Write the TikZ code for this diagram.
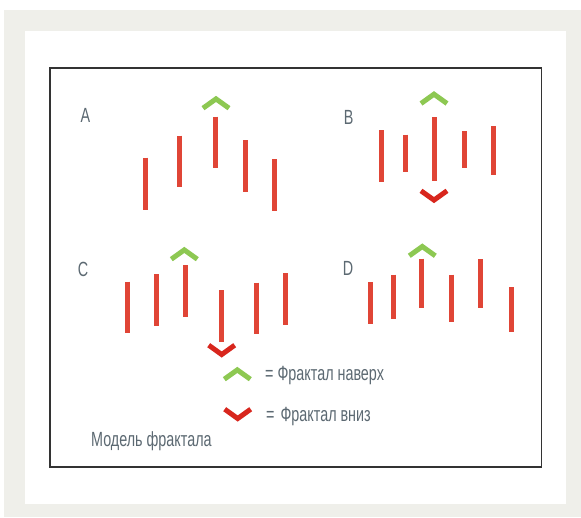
\documentclass[tikz,border=0pt]{standalone}
\usepackage{fontspec}
\setmainfont[FakeStretch=0.70]{Liberation Sans}
\begin{document}
\begin{tikzpicture}[x=1pt,y=-1pt,
  bar/.style={line width=5pt,draw=barred,line cap=butt},
  upchev/.style={line width=5pt,draw=chevgreen,line cap=butt,line join=miter},
  downchev/.style={line width=5pt,draw=chevred,line cap=butt,line join=miter},
  lbl/.style={text=txtgray,font=\fontsize{20.5}{23}\selectfont,inner sep=0pt},
  frame/.style={draw=framegray,line width=1.5pt}]
\definecolor{barred}{HTML}{E04536}
\definecolor{chevgreen}{HTML}{8DC852}
\definecolor{chevred}{HTML}{D8261D}
\definecolor{txtgray}{HTML}{5C6972}
\definecolor{bggray}{HTML}{EFEFEA}
\definecolor{framegray}{HTML}{333333}
\useasboundingbox (0,0) rectangle (581,517);
\fill[bggray] (4,10) rectangle (581,517);
\fill[white] (25,31) rectangle (566,504);
\draw[frame] (50,68) rectangle (541.5,467);
% chevrons: up apex outer top (cx,ty); down apex outer bottom
\def\up#1#2{\draw[upchev] (#1-13,#2+12.5) -- (#1,#2+3.2) -- (#1+13,#2+12.5);}
\def\dn#1#2{\draw[downchev] (#1-13,#2-12.5) -- (#1,#2-3.2) -- (#1+13,#2-12.5);}
% Panel A
\node[lbl,anchor=base] (la) at (85.5,122.7) {A};
\draw[bar] (145,157.7) -- (145,210);
\draw[bar] (179.3,135.7) -- (179.3,187.3);
\draw[bar] (215.3,116.7) -- (215.3,168.3);
\draw[bar] (245,140) -- (245,192);
\draw[bar] (274.3,159) -- (274.3,210.7);
\up{216}{95.7}
% Panel B
\node[lbl,anchor=base] (lb) at (348.7,124) {B};
\draw[bar] (381.3,130) -- (381.3,181.7);
\draw[bar] (405,134.7) -- (405,171.7);
\draw[bar] (434,117) -- (434,180.7);
\draw[bar] (464,131.3) -- (464,168.3);
\draw[bar] (493,126.3) -- (493,174.7);
\up{434}{91}
\dn{434}{203.3}
% Panel C
\node[lbl,anchor=base] (lc) at (83,276.5) {C};
\draw[bar] (127.7,281.7) -- (127.7,332.7);
\draw[bar] (156.7,274) -- (156.7,325.7);
\draw[bar] (185,265.3) -- (185,317.3);
\draw[bar] (221.3,290.3) -- (221.3,342);
\draw[bar] (256.7,282.7) -- (256.7,334.3);
\draw[bar] (285.7,273.3) -- (285.7,325.3);
\up{184.3}{246.7}
\dn{221.7}{357.7}
% Panel D
\node[lbl,anchor=base] (ld) at (348,275.5) {D};
\draw[bar] (370,282) -- (370,324.3);
\draw[bar] (393.3,274.7) -- (393.3,319.3);
\draw[bar] (421.7,258.7) -- (421.7,308);
\draw[bar] (451.7,274.7) -- (451.7,322);
\draw[bar] (480.7,259.3) -- (480.7,308);
\draw[bar] (511.3,287) -- (511.3,332);
\up{422.3}{243.3}
% Legend
\up{237.3}{366.7}
\dn{237.7}{421.7}
\node[lbl,anchor=base west] (lup) at (265,380.7) {= Фрактал наверх};
\node[lbl,anchor=base west] (ldn) at (266,421.7) {=\hspace{2pt} Фрактал вниз};
\node[lbl,anchor=base west] (title) at (91,446.7) {Модель фрактала};
\end{tikzpicture}
\end{document}
